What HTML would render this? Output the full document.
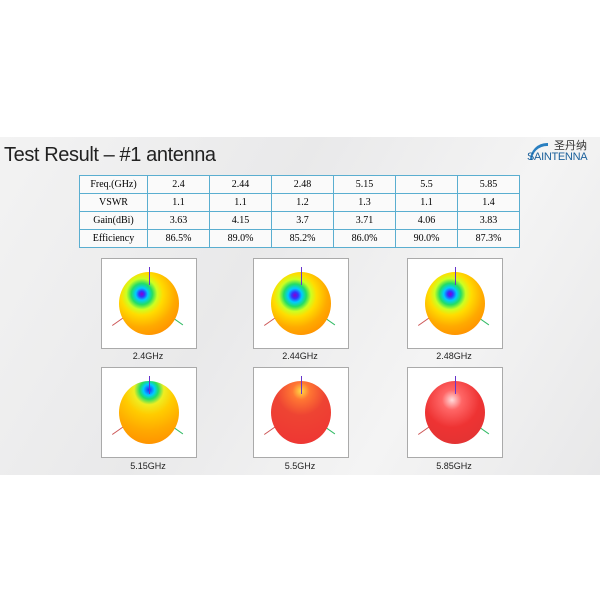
<!DOCTYPE html>
<html><head><style>
body{margin:0;width:600px;height:600px;background:#fff;position:relative;overflow:hidden;font-family:"Liberation Sans",sans-serif}
.slide{position:absolute;left:0;top:137px;width:600px;height:338px;background:linear-gradient(120deg,#f3f3f3,#e9e9ea 40%,#f4f4f4 70%,#e8e8e9)}
.title{position:absolute;left:4px;top:144px;font-size:20px;color:#222;letter-spacing:-0.4px}
table{position:absolute;left:79px;top:175px;border-collapse:collapse;font-family:"Liberation Serif",serif;font-size:10px;background:#fafafa}
td{border:1px solid #5aaed0;height:17px;padding:0;text-align:center;width:61px}
td:first-child{width:67px}
.box{position:absolute;width:94px;height:89px;background:#fff;border:1px solid #aaa}
.lab{position:absolute;font-size:9px;color:#222;width:94px;text-align:center}
.ball{position:absolute;left:17px;top:13px;width:60px;height:63px;border-radius:50%}
.v{position:absolute;left:47px;top:8px;width:1px;height:18px;background:#63c}
.l{position:absolute;left:9px;top:62px;width:14px;height:1px;background:#c55;transform:rotate(-35deg)}
.r{position:absolute;left:70px;top:62px;width:12px;height:1px;background:#3b6;transform:rotate(35deg)}
</style></head><body>
<div class="slide"></div>
<div class="title">Test Result – #1 antenna</div>
<div style="position:absolute;left:530px;top:143px;width:16px;height:14px;border-top:3px solid #2a7fc0;border-left:2px solid #2a7fc0;border-radius:18px 0 0 0"></div>
<div style="position:absolute;left:554px;top:137px;font-size:11px;color:#333;font-family:'Noto Sans CJK SC',sans-serif">圣丹纳</div>
<div style="position:absolute;left:527px;top:151px;font-size:11px;color:#1a5f9a;letter-spacing:-0.3px">SAINTENNA</div>
<table>
<tr><td>Freq.(GHz)</td><td>2.4</td><td>2.44</td><td>2.48</td><td>5.15</td><td>5.5</td><td>5.85</td></tr>
<tr><td>VSWR</td><td>1.1</td><td>1.1</td><td>1.2</td><td>1.3</td><td>1.1</td><td>1.4</td></tr>
<tr><td>Gain(dBi)</td><td>3.63</td><td>4.15</td><td>3.7</td><td>3.71</td><td>4.06</td><td>3.83</td></tr>
<tr><td>Efficiency</td><td>86.5%</td><td>89.0%</td><td>85.2%</td><td>86.0%</td><td>90.0%</td><td>87.3%</td></tr>
</table>

<div class="box" style="left:101px;top:258px"><div class="l"></div><div class="r"></div><div class="ball" style="background:radial-gradient(circle at 38% 35%,#80c 0,#33f 5%,#0cf 11%,#2d6 19%,#cf2 28%,#fd0 38%,#fa0 60%,#f70 100%)"></div><div class="v"></div></div>
<div class="lab" style="left:101px;top:351px">2.4GHz</div>
<div class="box" style="left:253px;top:258px"><div class="l"></div><div class="r"></div><div class="ball" style="background:radial-gradient(circle at 40% 37%,#80c 0,#33f 6%,#0cf 13%,#2d6 21%,#cf2 30%,#fd0 40%,#fa0 60%,#f70 100%)"></div><div class="v"></div></div>
<div class="lab" style="left:253px;top:351px">2.44GHz</div>
<div class="box" style="left:407px;top:258px"><div class="l"></div><div class="r"></div><div class="ball" style="background:radial-gradient(circle at 42% 35%,#80c 0,#33f 5%,#0cf 12%,#2d6 20%,#cf2 29%,#fd0 39%,#fa0 60%,#f70 100%)"></div><div class="v"></div></div>
<div class="lab" style="left:407px;top:351px">2.48GHz</div>

<div class="box" style="left:101px;top:367px"><div class="l"></div><div class="r"></div><div class="ball" style="background:radial-gradient(circle at 50% 14%,#22f 0,#0cf 9%,#2d6 15%,#ee2 24%,#fc0 40%,#fa0 65%,#f80 100%)"></div><div class="v"></div></div>
<div class="lab" style="left:101px;top:461px">5.15GHz</div>
<div class="box" style="left:253px;top:367px"><div class="l"></div><div class="r"></div><div class="ball" style="background:radial-gradient(circle at 50% 16%,#fd4 0,#f73 14%,#e43 40%,#e33 100%)"></div><div class="v"></div></div>
<div class="lab" style="left:253px;top:461px">5.5GHz</div>
<div class="box" style="left:407px;top:367px"><div class="l"></div><div class="r"></div><div class="ball" style="background:radial-gradient(circle at 45% 30%,#fdd 0,#f66 18%,#e33 50%,#d33 100%)"></div><div class="v"></div></div>
<div class="lab" style="left:407px;top:461px">5.85GHz</div>
</body></html>
